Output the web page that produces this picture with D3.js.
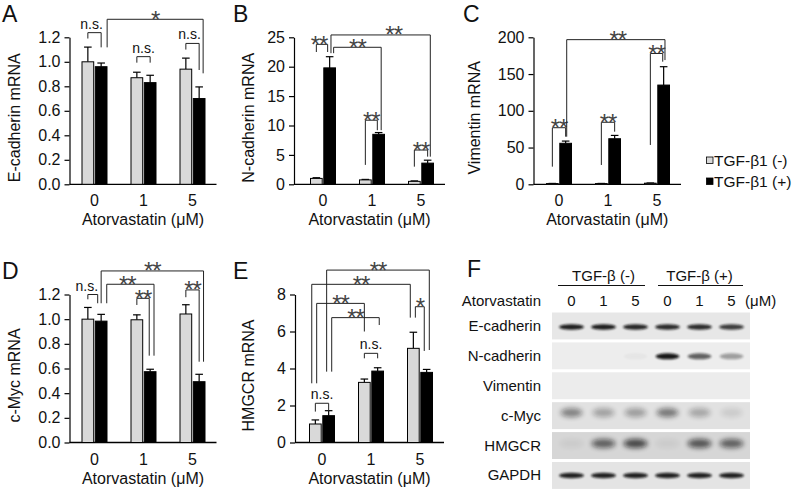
<!DOCTYPE html>
<html>
<head>
<meta charset="utf-8">
<script src="https://cdn.jsdelivr.net/npm/d3@7"></script>
<style>
  body { margin: 0; background: #fff; }
  svg { display: block; }
</style>
</head>
<body>
<script>
// categories
const doses = ["0", "1", "5"];
const groups = ["TGF-β1 (-)", "TGF-β1 (+)"];

// A: E-cadherin mRNA
const ecadTicks = [0, 0.2, 0.4, 0.6, 0.8, 1.0, 1.2];
const ecadNeg = [1.00, 0.87, 0.94], ecadNegErr = [0.12, 0.045, 0.09];
const ecadPos = [0.96, 0.83, 0.70], ecadPosErr = [0.03, 0.06, 0.095];
// [group1, side1, group2, side2, top, leg1 end, leg2 end, label, label shift]
const ecadSig = [
  [0, 0, 0, 1, 1.238, 1.19, 1.118, "n.s.", -3],
  [0, 1.45, 2, 1.3, 1.347, 1.118, 0.906, "*", 0],
  [1, 0, 1, 1, 1.042, 0.993, 0.993, "n.s.", 0],
  [2, 0, 2, 1, 1.15, 1.10, 0.933, "n.s.", -3]
];

// B: N-cadherin mRNA
const ncadTicks = [0, 5, 10, 15, 20, 25];
const ncadNeg = [1.0, 0.75, 0.5], ncadNegErr = [0.12, 0.08, 0.08];
const ncadPos = [19.8, 8.5, 3.6], ncadPosErr = [1.9, 0.3, 0.5];
const ncadSig = [
  [0, 0, 0, 0.85, 23.8, 22.5, 22.5, "**", -3],
  [0, 1.1, 2, 1.2, 25.4, 22.3, 4.7, "**", 13],
  [0, 1.3, 1, 1.19, 23.3, 22.3, 9.2, "**", 0],
  [1, 0, 1, 0.9, 10.9, 3.3, 9.2, "**", 0],
  [2, 0, 2, 1, 5.83, 3.0, 4.7, "**", 0]
];

// C: Vimentin mRNA
const vimTicks = [0, 50, 100, 150, 200];
const vimNeg = [1.0, 1.0, 1.5], vimNegErr = [0.2, 0.2, 0.3];
const vimPos = [55.8, 62, 135], vimPosErr = [3, 4.5, 25];
const vimSig = [
  [0, 0, 0, 1, 77, 24, 64.8, "**", 0],
  [0, 1.08, 2, 1.1, 196.8, 64.8, 169, "**", 2],
  [1, 0, 1, 1, 84.4, 26.3, 71.6, "**", 0],
  [2, 0, 2, 0.93, 178, 53.5, 166.8, "**", 0]
];

// D: c-Myc mRNA
const mycTicks = [0, 0.2, 0.4, 0.6, 0.8, 1.0, 1.2];
const mycNeg = [1.00, 0.995, 1.042], mycNegErr = [0.095, 0.04, 0.075];
const mycPos = [0.984, 0.574, 0.493], mycPosErr = [0.055, 0.02, 0.06];
const mycSig = [
  [0, 0, 0, 0.74, 1.20, 1.161, 1.129, "n.s.", -6],
  [0, 1, 2, 1.33, 1.391, 1.129, 0.655, "**", 0],
  [0, 1.42, 1, 1.29, 1.283, 1.129, 0.704, "**", -3],
  [1, 0, 1, 0.93, 1.169, 1.115, 0.704, "**", 0],
  [2, 0, 2, 1, 1.237, 1.178, 0.655, "**", 0]
];

// E: HMGCR mRNA
const hmgTicks = [0, 2, 4, 6, 8];
const hmgNeg = [1.0, 3.25, 5.09], hmgNegErr = [0.22, 0.18, 0.87];
const hmgPos = [1.45, 3.86, 3.79], hmgPosErr = [0.27, 0.18, 0.16];
const hmgSig = [
  [0, 0.85, 2, 1.2, 9.32, 3.83, 5.0, "**", 0],
  [0, -0.27, 2, -0.23, 8.55, 3.2, 6.75, "**", 0],
  [0, 0.1, 1, 0, 7.52, 3.2, 6.0, "**", 0],
  [0, 1.23, 1, 1.12, 6.75, 3.83, 6.35, "**", 0],
  [0, 0, 0, 1, 2.12, 1.67, 1.67, "n.s.", 0],
  [1, 0, 1, 1, 4.82, 4.55, 4.55, "n.s.", 0],
  [2, 0.15, 2, 0.82, 7.34, 6.75, 4.95, "*", 0]
];

// F: western blot (band strength per lane, 0..1)
const laneDoses = ["0", "1", "5", "0", "1", "5"];
const blotRows = ["E-cadherin", "N-cadherin", "Vimentin", "c-Myc", "HMGCR", "GAPDH"];
const ecadBand = [0.92, 0.92, 0.88, 0.86, 0.86, 0.78];
const ncadBand = [0, 0, 0.03, 0.95, 0.62, 0.35];
const vimBand = [0, 0, 0, 0, 0, 0];
const mycBand = [0.45, 0.3, 0.32, 0.5, 0.28, 0.1];
const hmgBand = [0.05, 0.6, 0.72, 0.05, 0.66, 0.6];
const gapdhBand = [0.9, 0.9, 0.9, 0.9, 0.9, 0.9];

const FONT = "'Liberation Sans', Arial, sans-serif";
const barW = 11.7, barStep = 13.3;

const svg = d3.select("body").append("svg")
  .attr("width", 792).attr("height", 493)
  .attr("font-family", FONT);

const defs = svg.append("defs");
defs.append("filter").attr("id", "sharp").attr("x", "-50%").attr("y", "-100%").attr("width", "200%").attr("height", "300%")
  .append("feGaussianBlur").attr("stdDeviation", 1.1);
defs.append("filter").attr("id", "soft").attr("x", "-50%").attr("y", "-100%").attr("width", "200%").attr("height", "300%")
  .append("feGaussianBlur").attr("stdDeviation", 2.6);

// left = start of the group band, axisX = y axis line
const panels = [
  { tag: "A", name: "E-cadherin mRNA", ticks: ecadTicks, fmt: ".1f", neg: ecadNeg, negErr: ecadNegErr, pos: ecadPos, posErr: ecadPosErr, sig: ecadSig, left: 69.5, axisX: 69.5, top: 37.3, bottom: 184.3, titleX: 14, tagX: 2, tagY: 22 },
  { tag: "B", name: "N-cadherin mRNA", ticks: ncadTicks, fmt: "d", neg: ncadNeg, negErr: ncadNegErr, pos: ncadPos, posErr: ncadPosErr, sig: ncadSig, left: 298, axisX: 294, top: 37.3, bottom: 184.3, titleX: 248, tagX: 233, tagY: 22 },
  { tag: "C", name: "Vimentin mRNA", ticks: vimTicks, fmt: "d", neg: vimNeg, negErr: vimNegErr, pos: vimPos, posErr: vimPosErr, sig: vimSig, left: 534, axisX: 533.5, top: 37.3, bottom: 184.3, titleX: 474, tagX: 463, tagY: 22 },
  { tag: "D", name: "c-Myc mRNA", ticks: mycTicks, fmt: ".1f", neg: mycNeg, negErr: mycNegErr, pos: mycPos, posErr: mycPosErr, sig: mycSig, left: 69.5, axisX: 69.5, top: 294.5, bottom: 442.5, titleX: 14, tagX: 2, tagY: 279 },
  { tag: "E", name: "HMGCR mRNA", ticks: hmgTicks, fmt: "d", neg: hmgNeg, negErr: hmgNegErr, pos: hmgPos, posErr: hmgPosErr, sig: hmgSig, left: 297, axisX: 295, top: 294.5, bottom: 442.5, titleX: 248, tagX: 233, tagY: 279 }
];

function drawPanel(p) {
  const g = svg.append("g");
  const yMax = p.ticks[p.ticks.length - 1];
  const x = d3.scalePoint().domain(doses).range([p.left + 25, p.left + 123]);
  const y = d3.scaleLinear().domain([0, yMax]).range([p.bottom, p.top]);
  const bx = (gi, s) => x(doses[gi]) + (s - 0.5) * barStep;
  const right = p.left + 147;

  // y axis
  g.append("g").attr("transform", `translate(${p.axisX},0)`)
    .call(d3.axisLeft(y).tickValues(p.ticks).tickSize(5).tickSizeOuter(0).tickPadding(4).tickFormat(d3.format(p.fmt)))
    .call(a => a.selectAll("text").attr("font-size", 16).attr("font-family", FONT).attr("fill", "#111"))
    .call(a => a.selectAll("line,path").attr("stroke", "#000").attr("stroke-width", 1.2));

  // x axis
  g.append("line")
    .attr("x1", p.axisX).attr("x2", right)
    .attr("y1", p.bottom).attr("y2", p.bottom)
    .attr("stroke", "#000").attr("stroke-width", 1.3);
  g.selectAll(".xl").data(doses).join("text")
    .attr("x", d => x(d)).attr("y", p.bottom + 22)
    .attr("text-anchor", "middle").attr("font-size", 16).attr("fill", "#111")
    .text(d => d);
  g.append("text")
    .attr("x", (p.axisX + right) / 2).attr("y", p.bottom + 41)
    .attr("text-anchor", "middle").attr("font-size", 16).attr("fill", "#111")
    .text("Atorvastatin (μM)");

  // y title
  g.append("text")
    .attr("transform", `translate(${p.titleX},${(p.top + p.bottom) / 2 + 7}) rotate(-90)`)
    .attr("text-anchor", "middle").attr("dominant-baseline", "central")
    .attr("font-size", 16).attr("fill", "#111")
    .text(p.name);

  // tag
  g.append("text").attr("x", p.tagX).attr("y", p.tagY)
    .attr("font-size", 23).attr("fill", "#111").text(p.tag);

  // bars with upward error bars
  [[p.neg, p.negErr], [p.pos, p.posErr]].forEach(([vals, errs], s) => {
    const rows = vals.map((v, i) => ({ v, e: errs[i], i }));
    g.selectAll(null).data(rows).join("line")
      .attr("x1", d => bx(d.i, s)).attr("x2", d => bx(d.i, s))
      .attr("y1", d => y(d.v)).attr("y2", d => y(d.v + d.e))
      .attr("stroke", "#000").attr("stroke-width", 1.2);
    g.selectAll(null).data(rows).join("line")
      .attr("x1", d => bx(d.i, s) - 3.8).attr("x2", d => bx(d.i, s) + 3.8)
      .attr("y1", d => y(d.v + d.e)).attr("y2", d => y(d.v + d.e))
      .attr("stroke", "#000").attr("stroke-width", 1.2);
    g.selectAll(null).data(rows).join("rect")
      .attr("x", d => bx(d.i, s) - barW / 2).attr("width", barW)
      .attr("y", d => y(d.v)).attr("height", d => y(0) - y(d.v))
      .attr("fill", s ? "#000" : "#d9d9d9")
      .attr("stroke", "#000").attr("stroke-width", 1);
  });

  // significance brackets
  p.sig.forEach(([g1, s1, g2, s2, top, e1, e2, label, dx]) => {
    const xa = bx(g1, s1), xb = bx(g2, s2);
    g.append("path")
      .attr("d", `M${xa},${y(e1)}V${y(top)}H${xb}V${y(e2)}`)
      .attr("fill", "none").attr("stroke", "#222").attr("stroke-width", 1);
    const star = label.includes("*");
    g.append("text")
      .attr("x", (xa + xb) / 2 + dx)
      .attr("y", y(top) + (star ? 8.5 : -4))
      .attr("text-anchor", "middle")
      .attr("font-size", star ? 24 : 14)
      .attr("letter-spacing", star ? -1 : 0)
      .attr("fill", star ? "#444" : "#111")
      .text(label);
  });
}

panels.forEach(drawPanel);

// legend
const legend = svg.append("g");
groups.forEach((name, i) => {
  legend.append("rect")
    .attr("x", 706.5).attr("y", 157 + i * 21).attr("width", 6.5).attr("height", 6.5)
    .attr("fill", i ? "#000" : "#d9d9d9").attr("stroke", "#000").attr("stroke-width", 0.8);
  legend.append("text")
    .attr("x", 714).attr("y", 165.5 + i * 21)
    .attr("font-size", 15.5).attr("fill", "#111").text(name);
});

// F: western blot
const blot = svg.append("g");
blot.append("text").attr("x", 467).attr("y", 277).attr("font-size", 23).attr("fill", "#111").text("F");

const lane = d3.scalePoint().domain(d3.range(6)).range([571.5, 731.5]);
const row = d3.scaleBand().domain(blotRows).range([312.5, 488.9]).paddingInner(0.1);

[["TGF-β (-)", 0, 2, 558, 645], ["TGF-β (+)", 3, 5, 658, 743]].forEach(([t, a, b, x1, x2]) => {
  blot.append("text").attr("x", (lane(a) + lane(b)) / 2).attr("y", 281)
    .attr("text-anchor", "middle").attr("font-size", 15).attr("fill", "#111").text(t);
  blot.append("line").attr("x1", x1).attr("x2", x2).attr("y1", 285.5).attr("y2", 285.5)
    .attr("stroke", "#111").attr("stroke-width", 1);
});
blot.append("text").attr("x", 541).attr("y", 305.5).attr("text-anchor", "end")
  .attr("font-size", 15).attr("fill", "#111").text("Atorvastatin");
blot.selectAll(".ld").data(laneDoses).join("text")
  .attr("x", (d, i) => lane(i)).attr("y", 305.5).attr("text-anchor", "middle")
  .attr("font-size", 15).attr("fill", "#111").text(d => d);
blot.append("text").attr("x", 745).attr("y", 305.5)
  .attr("font-size", 15).attr("fill", "#111").text("(μM)");

const blotData = [
  { name: "E-cadherin", bands: ecadBand, bg: "#e7e7e7", filter: "sharp", w: 25, h: 5.5, dy: 1 },
  { name: "N-cadherin", bands: ncadBand, bg: "#ededed", filter: "sharp", w: 24, h: 6, dy: 0.5 },
  { name: "Vimentin", bands: vimBand, bg: "#ececec", filter: "sharp", w: 24, h: 6, dy: 0 },
  { name: "c-Myc", bands: mycBand, bg: "#e1e1e1", filter: "soft", w: 22, h: 9, dy: -3 },
  { name: "HMGCR", bands: hmgBand, bg: "#d6d6d6", filter: "soft", w: 24, h: 9, dy: -2 },
  { name: "GAPDH", bands: gapdhBand, bg: "#e4e4e4", filter: "sharp", w: 25, h: 5.5, dy: 0 }
];

blotData.forEach(r => {
  const y0 = row(r.name), bh = row.bandwidth();
  blot.append("rect").attr("x", 552).attr("y", y0).attr("width", 198).attr("height", bh).attr("fill", r.bg);
  blot.append("text").attr("x", 541).attr("y", y0 + bh / 2 + 5)
    .attr("text-anchor", "end").attr("font-size", 15).attr("fill", "#111").text(r.name);
  blot.selectAll(null).data(r.bands).join("ellipse")
    .attr("cx", (d, i) => lane(i)).attr("cy", y0 + bh / 2 + r.dy)
    .attr("rx", r.w / 2).attr("ry", r.h / 2)
    .attr("fill", "#111").attr("opacity", d => d)
    .attr("filter", `url(#${r.filter})`);
});
</script>
</body>
</html>
